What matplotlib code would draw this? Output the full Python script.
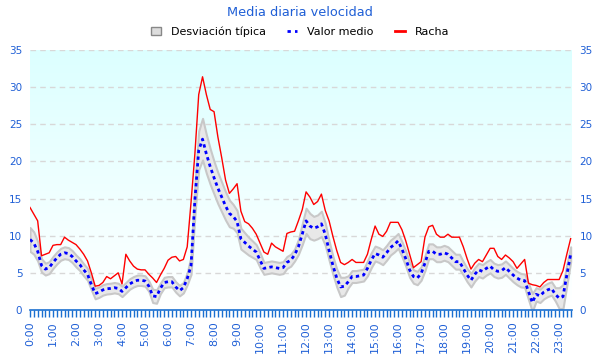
import matplotlib.pyplot as plt
import numpy as np
from matplotlib.lines import Line2D
from matplotlib.patches import Patch
from matplotlib.ticker import MultipleLocator

# one value every 10 minutes, 0:00 .. 23:30
valor_medio = [
    9.5, 9.0, 7.9, 6.0, 5.5, 5.7, 6.4, 7.0, 7.5, 7.7, 7.6, 7.2,
    6.6, 6.1, 5.4, 4.8, 3.4, 2.2, 2.4, 2.7, 2.85, 2.9, 3.0, 2.9,
    2.5, 3.0, 3.5, 3.8, 4.0, 4.0, 3.9, 3.2, 1.9, 1.8, 2.9, 3.7,
    3.8, 3.8, 3.1, 2.6, 3.0, 4.2, 6.0, 14.8, 21.5, 23.0, 21.0, 19.3,
    17.8, 16.4, 15.2, 14.0, 13.0, 12.6, 11.9, 9.6, 9.1, 8.6, 8.2, 7.8,
    6.7, 5.6, 5.7, 5.8, 5.7, 5.6, 5.7, 6.4, 6.7, 7.4, 8.5, 10.2,
    12.0, 11.3, 11.0, 11.2, 11.6, 10.2, 8.0, 6.0, 4.3, 3.1, 3.2, 3.8,
    4.5, 4.5, 4.6, 4.7, 5.6, 6.7, 7.6, 7.4, 7.1, 7.7, 8.4, 8.8,
    9.3, 8.2, 6.9, 5.4, 4.5, 4.3, 4.9, 6.3, 7.9, 7.9, 7.5, 7.5,
    7.7, 7.5, 7.0, 6.5, 6.5, 5.6, 4.7, 4.0, 4.8, 5.4, 5.2, 5.6,
    5.9, 5.4, 5.2, 5.3, 5.7, 5.2, 4.7, 4.3, 4.0, 3.95, 2.5, 1.0,
    2.1, 1.9, 2.4, 2.7, 2.9, 2.1, 1.6, 1.8, 4.7, 7.5,
]

desviacion = [
    1.6, 1.5, 1.3, 0.9, 0.8, 0.8, 0.8, 0.8, 0.8, 0.8, 0.8, 0.8,
    0.8, 0.8, 0.8, 0.8, 0.7, 0.7, 0.7, 0.7, 0.7, 0.7, 0.7, 0.7,
    0.7, 0.7, 0.7, 0.7, 0.7, 0.7, 0.7, 0.7, 0.9, 0.9, 0.7, 0.7,
    0.7, 0.7, 0.7, 0.7, 0.7, 0.8, 1.2, 2.0, 2.6, 2.8, 2.6, 2.4,
    2.2, 2.1, 2.0, 1.9, 1.8, 1.6, 1.5, 1.4, 1.3, 1.2, 1.1, 1.0,
    1.0, 0.8, 0.8, 0.8, 0.8, 0.8, 0.8, 0.8, 0.8, 0.8, 1.0, 1.4,
    1.7, 1.7, 1.6, 1.6, 1.7, 1.5, 1.3, 1.2, 1.2, 1.3, 1.2, 0.8,
    0.8, 0.8, 0.8, 0.8, 1.0, 1.0, 1.0, 1.0, 1.0, 1.0, 1.0, 1.0,
    1.0, 1.0, 1.0, 1.0, 0.9, 0.9, 0.9, 1.0, 1.0, 1.0, 1.0, 1.0,
    1.0, 1.0, 1.0, 1.0, 1.0, 0.9, 0.9, 0.9, 0.9, 0.9, 0.9, 0.9,
    0.9, 0.9, 0.9, 0.9, 0.9, 0.9, 0.9, 0.9, 0.9, 0.9, 1.1, 1.2,
    0.9, 0.9, 0.9, 0.9, 0.9, 0.9, 1.4, 1.6, 1.4, 1.0,
]

racha = [
    13.8, 12.9, 12.0, 7.3, 7.5, 7.7, 8.7, 8.8, 8.8, 9.8, 9.4, 9.1,
    8.8, 8.2, 7.5, 6.6, 5.0, 3.2, 3.3, 3.7, 4.5, 4.2, 4.6, 5.0,
    3.5, 7.5, 6.6, 5.9, 5.5, 5.4, 5.4, 4.8, 4.3, 3.7, 4.7, 5.6,
    6.7, 7.1, 7.2, 6.6, 6.8, 8.5, 14.5, 21.0, 29.0, 31.4, 29.0, 27.0,
    26.7, 23.3, 20.5, 17.5, 15.7, 16.3, 17.0, 13.3, 11.9, 11.6, 11.0, 10.2,
    9.0, 7.8, 7.5, 9.0, 8.5, 8.2, 7.9, 10.3, 10.5, 10.6, 12.0, 13.5,
    15.9, 15.2, 14.2, 14.6, 15.6, 13.4, 12.0, 9.9, 8.0, 6.4, 6.1, 6.4,
    6.8, 6.4, 6.4, 6.4, 7.5, 9.5, 11.3, 10.2, 9.9, 10.6, 11.8, 11.8,
    11.8, 10.8, 9.3, 7.5, 5.7, 6.1, 6.5, 9.8, 11.2, 11.4, 10.2, 9.8,
    9.8, 10.2, 9.8, 9.8, 9.8, 8.5, 6.9, 5.5, 6.3, 6.8, 6.5, 7.4,
    8.3, 8.3, 7.2, 6.8, 7.4, 7.0, 6.5, 5.6, 6.2, 6.8, 3.6, 3.4,
    3.3, 3.1, 3.7, 4.1, 4.1, 4.1, 4.1, 5.3, 7.5, 9.6,
]

hour_labels = ['%d:00' % h for h in range(24)]

blue_txt = '#1f5fd6'
axis_blue = '#1a6fd0'

x = np.arange(len(valor_medio)) / 6.0
mean = np.array(valor_medio)
std = np.array(desviacion)
gust = np.array(racha)

fig = plt.figure(figsize=(6, 3.6), dpi=100)
ax = fig.add_axes([0.05, 0.139, 0.903, 0.722])

ax.set_xlim(0, 23.55)
ax.set_ylim(0, 35)

# background gradient, light cyan at top to white at bottom
grad = np.linspace(0, 1, 256).reshape(-1, 1)
top = np.array([220, 255, 255]) / 255
bot = np.array([255, 255, 255]) / 255
img = top * grad[..., None] + bot * (1 - grad[..., None])
ax.imshow(img, extent=[0, 23.55, 0, 35], origin='lower', aspect='auto', zorder=0)

for v in range(5, 36, 5):
    ax.axhline(v, color='#d8d8d8', lw=1, ls=(0, (4, 3)), zorder=1)

ax.fill_between(x, mean - std, mean + std, facecolor='#e8e8e8',
                edgecolor='#c8c8c8', lw=1.5, zorder=2)
ax.plot(x, gust, color='#ff0000', lw=1, zorder=4)
ax.plot(x, mean, color='#0000ff', lw=2, ls=(0, (1.2, 1.2)), zorder=3)

for s in ['left', 'right', 'top']:
    ax.spines[s].set_visible(False)
ax.spines['bottom'].set_color(axis_blue)
ax.spines['bottom'].set_linewidth(1.2)

ax.set_xticks(range(24))
ax.set_xticklabels(hour_labels, rotation=90, color=blue_txt, fontsize=8)
ax.xaxis.set_minor_locator(MultipleLocator(1 / 6))
ax.tick_params(axis='x', which='both', length=5, width=1, color=axis_blue, pad=3)

ax.set_yticks(range(0, 36, 5))
ax.tick_params(axis='y', length=0, labelcolor=blue_txt, labelsize=7.5,
               labelleft=True, labelright=True, pad=5.5)

fig.text(0.5, 1 - 12 / 360, 'Media diaria velocidad', color=blue_txt,
         fontsize=9.3, ha='center', va='center')

handles = [
    Patch(facecolor='#dddddd', edgecolor='#888888', lw=1),
    Line2D([0], [0], color='#0000ff', lw=2, ls=(0, (1.2, 1.5))),
    Line2D([0], [0], color='#ff0000', lw=2),
]
fig.legend(handles, ['Desviación típica', 'Valor medio', 'Racha'],
           loc='center', bbox_to_anchor=(0.5, 1 - 31.5 / 360), ncol=3,
           frameon=False, fontsize=8, handlelength=0.9, handleheight=0.75,
           columnspacing=1.9, handletextpad=0.9)

fig.savefig('out.png', dpi=100)
